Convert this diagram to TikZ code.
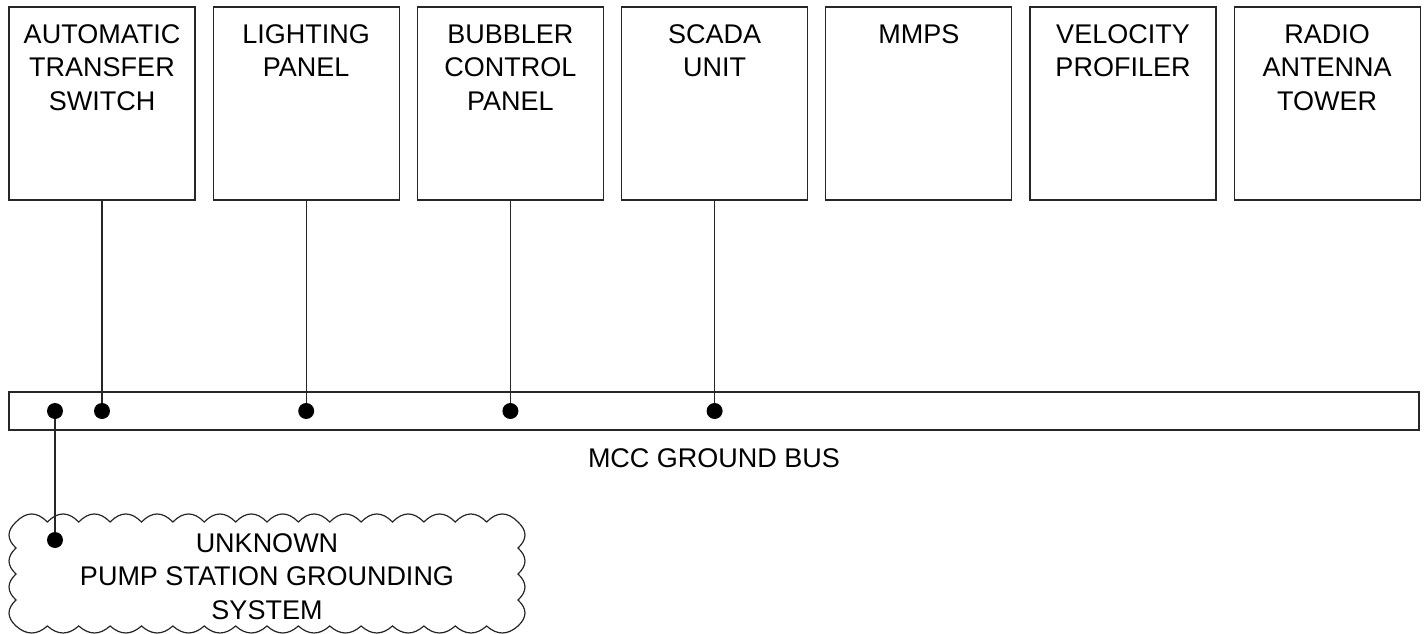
\documentclass[tikz,border=0pt]{standalone}
\usepackage{fontspec}
\setmainfont{Liberation Sans}
\usetikzlibrary{positioning}

\begin{document}
\begin{tikzpicture}[x=1pt,y=-1pt,
  panel/.style={draw=black!85,line width=1.2pt,minimum width=186pt,minimum height=193pt,inner sep=0pt},
  tag/.style={inner sep=0pt,align=center,font=\fontsize{27}{33.5}\selectfont},
  busbar/.style={draw=black!85,line width=1.2pt,minimum width=1410pt,minimum height=38pt,inner sep=0pt},
  dot/.style={circle,fill=black,minimum size=16pt,inner sep=0pt},
  wire/.style={draw=black!85,line width=1.2pt}]
\useasboundingbox (0,0) rectangle (1425,634);

\node[panel] (ats) at (102,103.5) {};
\node[panel] (lp) at (306.2,103.5) {};
\node[panel] (bcp) at (510.4,103.5) {};
\node[panel] (scada) at (714.6,103.5) {};
\node[panel] (mmps) at (918.8,103.5) {};
\node[panel] (vp) at (1123,103.5) {};
\node[panel] (rat) at (1327.2,103.5) {};

\node[tag, below=18pt of ats.north] (atsT) {AUTOMATIC\\TRANSFER\\SWITCH};
\node[tag, below=18pt of lp.north] (lpT) {LIGHTING\\PANEL};
\node[tag, below=18pt of bcp.north] (bcpT) {BUBBLER\\CONTROL\\PANEL};
\node[tag, below=18pt of scada.north] (scadaT) {SCADA\\UNIT};
\node[tag, below=18pt of mmps.north] (mmpsT) {MMPS};
\node[tag, below=18pt of vp.north] (vpT) {VELOCITY\\PROFILER};
\node[tag, below=18pt of rat.north] (ratT) {RADIO\\ANTENNA\\TOWER};

\node[busbar] (bus) at (714,411) {};
\node[tag, below=18pt of bus] (busT) {MCC GROUND BUS};

\node[dot] (gnd) at (55,411) {};
\node[dot] (atsD) at (102,411) {};
\node[dot] (lpD) at (306.2,411) {};
\node[dot] (bcpD) at (510.4,411) {};
\node[dot] (scadaD) at (714.6,411) {};

\draw[wire] (ats) -- (atsD);
\draw[wire] (lp) -- (lpD);
\draw[wire] (bcp) -- (bcpD);
\draw[wire] (scada) -- (scadaD);

\draw[wire] (16,522)
  \foreach \i in {1,...,16} { .. controls +(10.5,-10.7) and +(-10.5,-10.7) .. (16+31.375*\i,522) }
  \foreach \i in {1,...,4} { .. controls +(9.3,8.7) and +(9.3,-8.7) .. (518,522+26*\i) }
  \foreach \i in {1,...,16} { .. controls +(-10.5,9.3) and +(10.5,9.3) .. (518-31.375*\i,626) }
  \foreach \i in {1,...,4} { .. controls +(-9.3,-8.7) and +(-9.3,8.7) .. (16,626-26*\i) } -- cycle;
\node[tag, anchor=north] (pump) at (267,533) {UNKNOWN\\PUMP STATION GROUNDING\\SYSTEM};
\node[dot] (pumpD) at (55,540) {};
\draw[wire] (gnd) -- (pumpD);

\end{tikzpicture}
\end{document}
